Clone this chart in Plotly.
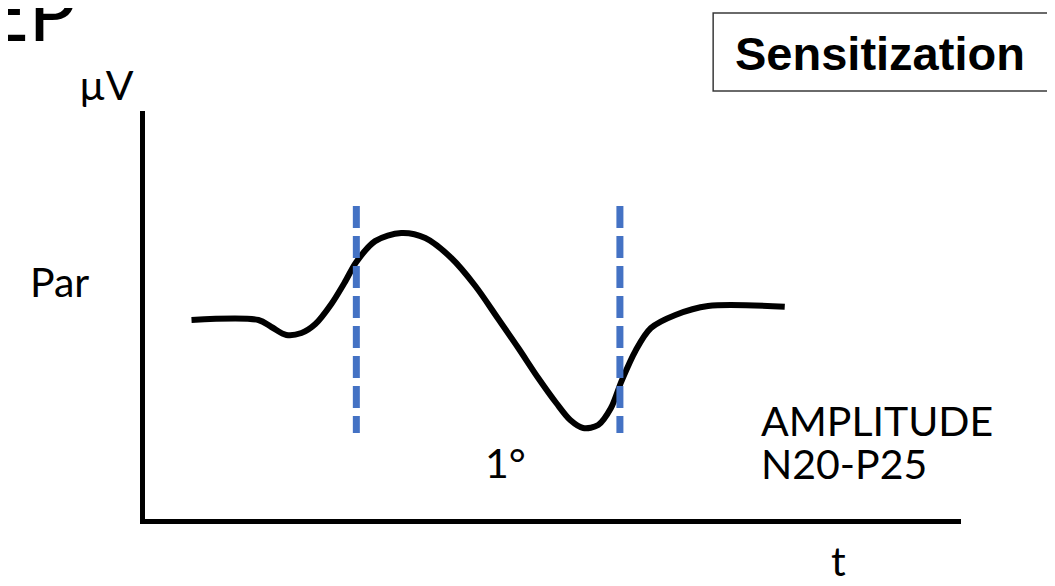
import plotly.graph_objects as go

# ---- data (arbitrary units) ----
t_vals = [5.7, 13.9, 15.49, 17.33, 19.17, 20.88, 22.84, 24.43, 25.9, 28.2, 31.4, 34.35, 37.54, 40.48,
          43.30, 45.75, 48.19, 50.40, 52.11, 53.70, 55.54, 57.1, 58.4, 60.1, 62.0, 65.0, 69.0, 78.4]
uv_vals = [48.8, 48.77, 47.06, 45.10, 45.59, 47.79, 52.70, 57.84, 63.0, 68.1, 70.1, 68.87, 63.97, 57.11,
           49.02, 41.91, 34.56, 28.43, 24.26, 22.30, 23.04, 27.2, 33.8, 41.2, 46.8, 50.0, 52.2, 52.0]
marker_t = [25.9, 58.2]          # dashed latency markers
marker_span = [21.1, 76.7]       # vertical extent of the dashed markers

W, H = 1055, 586
L, R, T, B = 136.5, 953, 103, 511   # plot area in px


def px(xp):
    return (xp - L) / (R - L)


def py(yp):
    return (B - yp) / (B - T)


fig = go.Figure()
fig.add_trace(go.Scatter(x=t_vals, y=uv_vals, mode="lines",
                         line=dict(color="black", width=6, shape="spline", smoothing=0.9),
                         hoverinfo="skip", showlegend=False))
for mt in marker_t:
    fig.add_trace(go.Scatter(x=[mt, mt], y=[marker_span[1], marker_span[0]], mode="lines",
                             line=dict(color="#4472C4", width=7, dash="22px,8px"),
                             hoverinfo="skip", showlegend=False))

font_c = "Lato, 'Open Sans', sans-serif"
ann = []
ann.append(dict(text="EP", x=px(69), y=py(2), xanchor="right", yanchor="middle",
                font=dict(family=font_c, size=79, color="black")))
ann.append(dict(text="µV", x=px(98), y=py(76), xanchor="center", yanchor="middle",
                font=dict(family=font_c, size=41, color="black")))
ann.append(dict(text="Par", x=px(51), y=py(273), xanchor="center", yanchor="middle",
                font=dict(family=font_c, size=41, color="black")))
ann.append(dict(text="AMPLITUDE", x=px(751), y=py(412), xanchor="left", yanchor="middle",
                font=dict(family=font_c, size=41, color="black")))
ann.append(dict(text="N20-P25", x=px(751), y=py(455), xanchor="left", yanchor="middle",
                font=dict(family=font_c, size=41, color="black")))
ann.append(dict(text="1°", x=px(497), y=py(454), xanchor="center", yanchor="middle",
                font=dict(family=font_c, size=41, color="black")))
ann.append(dict(text="t", x=px(830), y=py(552), xanchor="center", yanchor="middle",
                font=dict(family=font_c, size=41, color="black")))
ann.append(dict(text="<b>Sensitization</b>", x=px(871.5), y=py(45.5), xanchor="center", yanchor="middle",
                font=dict(family="'Liberation Sans', Arial, sans-serif", size=47, color="black")))
for a in ann:
    a.update(xref="paper", yref="paper", showarrow=False)

fig.update_layout(
    width=W, height=H,
    margin=dict(l=L, r=W - R, t=T, b=H - B, pad=0),
    paper_bgcolor="white", plot_bgcolor="white",
    annotations=ann,
    shapes=[dict(type="rect", xref="paper", yref="paper",
                 x0=px(705), x1=px(1043), y0=py(83), y1=py(5),
                 line=dict(color="#3a3a3a", width=1.5), fillcolor="rgba(0,0,0,0)")],
    xaxis=dict(range=[0, 100], showline=True, linecolor="black", linewidth=4.5,
               showgrid=False, zeroline=False, showticklabels=False, ticks=""),
    yaxis=dict(range=[0, 100], showline=True, linecolor="black", linewidth=4.5,
               showgrid=False, zeroline=False, showticklabels=False, ticks=""),
    showlegend=False,
)
fig.write_html("out.html")
